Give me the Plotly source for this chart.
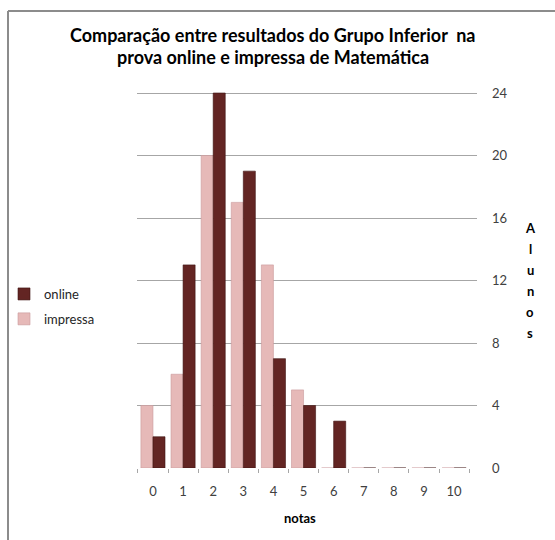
import plotly.graph_objects as go

notas = [0, 1, 2, 3, 4, 5, 6, 7, 8, 9, 10]
impressa = [4, 6, 20, 17, 13, 5, 0, 0, 0, 0, 0]
online = [2, 13, 24, 19, 7, 4, 3, 0, 0, 0, 0]
y_ticks = [0, 4, 8, 12, 16, 20, 24]
title_lines = ["Comparação entre resultados do Grupo Inferior  na",
               "prova online e impressa de Matemática"]
x_title = "notas"
y_title = "Alunos"

W, H = 555, 540
L, R, T, B = 137, 78, 85, 72
pw, ph = W - L - R, H - T - B

def px(xp):
    return (xp - L) / pw

def py(yp):
    return (H - B - yp) / ph

FONT = "Lato"
fig = go.Figure()
fig.add_trace(go.Bar(x=notas, y=impressa, name="impressa", legendgroup="b", legendrank=2,
                     marker=dict(color="#E6B9B8", line=dict(color="#C9999A", width=0.6))))
fig.add_trace(go.Bar(x=notas, y=online, name="online", legendgroup="a", legendrank=1,
                     marker=dict(color="#632523", line=dict(color="#3E1211", width=0.6))))

annotations = []
for i, line in enumerate(title_lines):
    annotations.append(dict(text="<b>%s</b>" % line, x=px(273), y=py(35 + 22 * i),
                            xref="paper", yref="paper",
                            showarrow=False, xanchor="center", yanchor="middle",
                            font=dict(family=FONT, size=18, color="#000000")))
annotations.append(dict(text="<b>%s</b>" % x_title, x=px(300), y=py(518), xref="paper",
                        yref="paper", showarrow=False, xanchor="center", yanchor="middle",
                        font=dict(family=FONT, size=13, color="#000000")))
for i, ch in enumerate(y_title):
    annotations.append(dict(text="<b>%s</b>" % ch, x=px(530), y=py(228 + 21 * i),
                            xref="paper", yref="paper", showarrow=False,
                            xanchor="center", yanchor="middle",
                            font=dict(family=FONT, size=13, color="#000000")))

shapes = [
    dict(type="line", xref="paper", yref="paper", x0=px(8), x1=px(560), y0=py(11), y1=py(11),
         line=dict(color="#8C8C8C", width=2)),
    dict(type="line", xref="paper", yref="paper", x0=px(8), x1=px(8), y0=py(11), y1=py(545),
         line=dict(color="#8C8C8C", width=2)),
]

# y: 0 at pixel 468, 24 at pixel 93 -> 15.625 px per unit; plot top at 85
y_top = (468 - 85) / 15.625

fig.update_layout(
    width=W, height=H,
    margin=dict(l=L, r=R, t=T, b=B, pad=0, autoexpand=False),
    paper_bgcolor="white", plot_bgcolor="white",
    barmode="group", bargap=0.2, bargroupgap=0.0,
    font=dict(family=FONT, size=13, color="#404040"),
    showlegend=True,
    legend=dict(x=px(4), y=py(279), xanchor="left", yanchor="top",
                traceorder="grouped", tracegroupgap=5,
                itemwidth=30, font=dict(family=FONT, size=13, color="#262626"),
                bgcolor="rgba(0,0,0,0)"),
    xaxis=dict(range=[-0.53, 10.76], tickmode="array", tickvals=notas,
               ticktext=[str(n) for n in notas], showgrid=False, zeroline=False,
               showline=False, ticks="", ticklabelstandoff=14,
               minor=dict(ticks="outside", tick0=-0.5, dtick=1, ticklen=4,
                          tickcolor="#A6A6A6", showgrid=False),
               tickfont=dict(size=13, color="#404040")),
    yaxis=dict(range=[0, y_top], side="right", tickmode="array", tickvals=y_ticks,
               showgrid=True, gridcolor="#A6A6A6", gridwidth=1, zeroline=False,
               showline=False, ticks="", ticklabelstandoff=14,
               tickfont=dict(size=13, color="#404040")),
    annotations=annotations,
    shapes=shapes,
)

fig.write_html("out.html")
